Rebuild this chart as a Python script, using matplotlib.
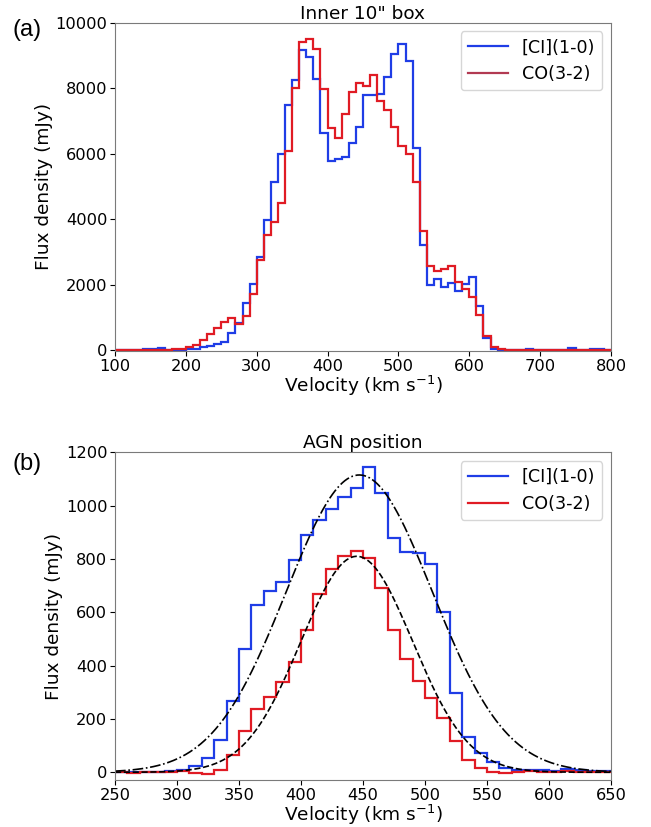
import numpy as np
import matplotlib
matplotlib.use("Agg")
import matplotlib.pyplot as plt
from matplotlib.lines import Line2D

# ---------------- data ----------------
# Panel (a): Inner 10" box, 10 km/s channels from 100 to 800 km/s
edges_a = np.arange(100, 801, 10)
ci_a = [0, 0, 0, 0, 20, 20, 70, 0, 0, 10,
        20, 40, 100, 133, 173, 234, 510, 836, 1447, 2008,
        2834, 3975, 5140, 5980, 7500, 8250, 9170, 8960, 8270, 6640,
        5765, 5826, 5887, 6315, 6824, 7800, 7800, 7820, 8330, 9045,
        9350, 8830, 6180, 3220, 1986, 2160, 1935, 2037, 1813, 2010,
        2220, 1344, 357, 20, 0, 0, 0, 0, 30, 0,
        0, 0, 0, 10, 70, 0, 0, 30, 30, 0]
co_a = [0, 0, 0, 0, 0, 0, 0, 0, 30, 40,
        100, 163, 306, 490, 673, 846, 968, 785, 1040, 1720,
        2750, 3515, 3920, 4485, 6080, 8000, 9410, 9490, 9186, 7970,
        6770, 6490, 7200, 7890, 8150, 8075, 8400, 7620, 7330, 6800,
        6240, 5980, 5130, 3646, 2566, 2424, 2465, 2577, 2088, 1854,
        1630, 1070, 438, 100, 30, 0, 0, 0, 0, 0,
        0, 0, 0, 0, 0, 0, 0, 0, 0, 0]

# Panel (b): AGN position, 10 km/s channels from 250 to 650 km/s
edges_b = np.arange(250, 651, 10)
ci_b = [0, 0, 0, 0, 3, 7, 25, 55, 121, 267,
        462, 627, 681, 715, 796, 890, 946, 987, 1033, 1067,
        1146, 1048, 880, 827, 821, 780, 601, 298, 133, 71,
        40, 17, 8, 10, 10, 5, 12, 8, 5, 5]
co_b = [0, -3, 0, 0, 0, 3, -3, -6, 9, 65,
        155, 236, 281, 340, 412, 534, 668, 761, 811, 830,
        802, 692, 534, 424, 342, 280, 205, 117, 46, 15,
        0, -2, 0, 3, 0, 2, 5, 0, 2, 0]

# Gaussian fit parameters (amplitude mJy, centre km/s, sigma km/s)
fit_ci = (1115, 447, 59)
fit_co = (810, 445, 45)

labels = ["[CI](1-0)", "CO(3-2)"]
titles = ['Inner 10" box', "AGN position"]

# ---------------- style ----------------
BLUE = "#1f3de6"
RED = "#e01b24"
FS_TICK = 11.7
FS_LAB = 13.3
FS_LEG = 12.6
plt.rcParams["font.family"] = ["DejaVu Sans"]

fig = plt.figure(figsize=(6.51, 8.27), dpi=100)
W, H = 651, 827
ax1 = fig.add_axes([115 / W, 1 - 351 / H, 496 / W, (351 - 22.7) / H])
ax2 = fig.add_axes([115 / W, 1 - 780 / H, 496 / W, (780 - 452.3) / H])

# Panel (a)
ax1.stairs(ci_a, edges_a, color=BLUE, lw=1.6, baseline=None)
ax1.stairs(co_a, edges_a, color=RED, lw=1.6, baseline=None)
ax1.set_xlim(100, 800)
ax1.set_ylim(-30, 10000)
ax1.set_xticks(np.arange(100, 801, 100))
ax1.set_yticks(np.arange(0, 10001, 2000))
ax1.set_title(titles[0], fontsize=FS_LAB, pad=3)
handles_a = [Line2D([], [], color=BLUE, lw=1.6), Line2D([], [], color="#b23a52", lw=1.6)]
ax1.legend(handles_a, labels, loc="upper right", fontsize=FS_LEG, handlelength=2.3,
           borderaxespad=0.5)

# Panel (b)
ax2.stairs(ci_b, edges_b, color=BLUE, lw=1.6, baseline=None)
ax2.stairs(co_b, edges_b, color=RED, lw=1.6, baseline=None)
v = np.linspace(250, 650, 400)
a, m, s = fit_ci
ax2.plot(v, a * np.exp(-(v - m) ** 2 / (2 * s ** 2)), color="black", lw=1.2, ls="-.")
a, m, s = fit_co
ax2.plot(v, a * np.exp(-(v - m) ** 2 / (2 * s ** 2)), color="black", lw=1.2, ls="--")
ax2.set_xlim(250, 650)
ax2.set_ylim(-29, 1200)
ax2.set_xticks(np.arange(250, 651, 50))
ax2.set_yticks(np.arange(0, 1201, 200))
ax2.set_title(titles[1], fontsize=FS_LAB, pad=3)
handles_b = [Line2D([], [], color=BLUE, lw=1.6), Line2D([], [], color=RED, lw=1.6)]
ax2.legend(handles_b, labels, loc="upper right", fontsize=FS_LEG, handlelength=2.3,
           borderaxespad=0.5)

for ax in (ax1, ax2):
    ax.set_xlabel("Velocity (km s$^{-1}$)", fontsize=FS_LAB, labelpad=0)
    ax.set_ylabel("Flux density (mJy)", fontsize=FS_LAB, labelpad=2)
    ax.tick_params(labelsize=FS_TICK, pad=2)
    for sp in ax.spines.values():
        sp.set_color("#7a7a7a")

fig.text(13 / W, 1 - 30 / H, "(a)", fontsize=17, family="Liberation Sans", va="center")
fig.text(13 / W, 1 - 464 / H, "(b)", fontsize=17, family="Liberation Sans", va="center")

fig.savefig("out.png", dpi=100)
